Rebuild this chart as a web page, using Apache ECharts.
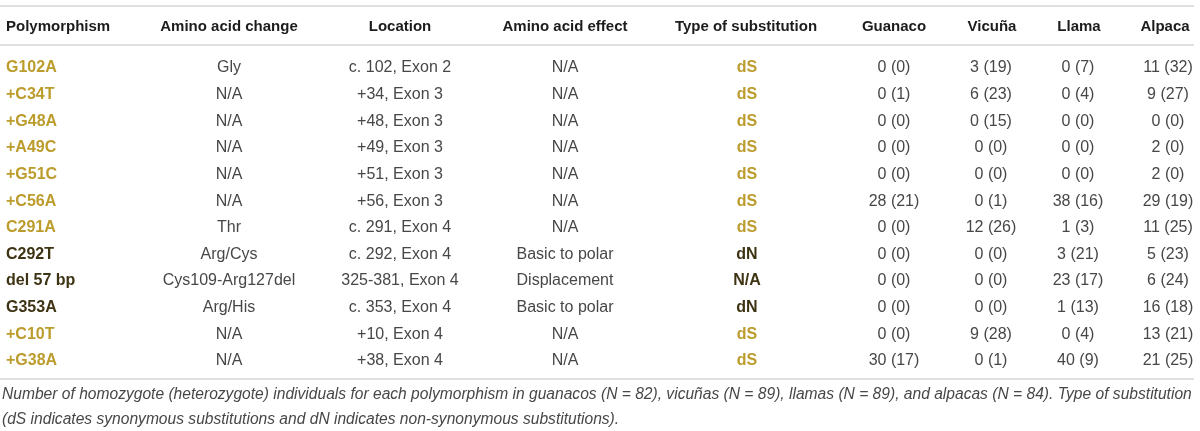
<!DOCTYPE html>
<html>
<head>
<meta charset="utf-8">
<script src="https://cdn.jsdelivr.net/npm/echarts@6/dist/echarts.min.js"></script>
<style>
html, body { margin: 0; padding: 0; background: #fff; }
#chart { width: 1200px; height: 431px; }
</style>
</head>
<body>
<div id="chart"></div>
<script>
var headers = ['Polymorphism', 'Amino acid change', 'Location', 'Amino acid effect', 'Type of substitution', 'Guanaco', 'Vicuña', 'Llama', 'Alpaca'];
var polymorphisms = ['G102A', '+C34T', '+G48A', '+A49C', '+G51C', '+C56A', 'C291A', 'C292T', 'del 57 bp', 'G353A', '+C10T', '+G38A'];
var aaChange = ['Gly', 'N/A', 'N/A', 'N/A', 'N/A', 'N/A', 'Thr', 'Arg/Cys', 'Cys109-Arg127del', 'Arg/His', 'N/A', 'N/A'];
var locations = ['c. 102, Exon 2', '+34, Exon 3', '+48, Exon 3', '+49, Exon 3', '+51, Exon 3', '+56, Exon 3', 'c. 291, Exon 4', 'c. 292, Exon 4', '325-381, Exon 4', 'c. 353, Exon 4', '+10, Exon 4', '+38, Exon 4'];
var aaEffect = ['N/A', 'N/A', 'N/A', 'N/A', 'N/A', 'N/A', 'N/A', 'Basic to polar', 'Displacement', 'Basic to polar', 'N/A', 'N/A'];
var substitution = ['dS', 'dS', 'dS', 'dS', 'dS', 'dS', 'dS', 'dN', 'N/A', 'dN', 'dS', 'dS'];
// homozygote (heterozygote) counts
var guanacoHom = [0, 0, 0, 0, 0, 28, 0, 0, 0, 0, 0, 30];
var guanacoHet = [0, 1, 0, 0, 0, 21, 0, 0, 0, 0, 0, 17];
var vicunaHom = [3, 6, 0, 0, 0, 0, 12, 0, 0, 0, 9, 0];
var vicunaHet = [19, 23, 15, 0, 0, 1, 26, 0, 0, 0, 28, 1];
var llamaHom = [0, 0, 0, 0, 0, 38, 1, 3, 23, 1, 0, 40];
var llamaHet = [7, 4, 0, 0, 0, 16, 3, 21, 17, 13, 4, 9];
var alpacaHom = [11, 9, 0, 2, 2, 29, 11, 5, 6, 16, 13, 21];
var alpacaHet = [32, 27, 0, 0, 0, 19, 25, 23, 24, 18, 21, 25];
var footnote = 'Number of homozygote (heterozygote) individuals for each polymorphism in guanacos (N = 82), vicuñas (N = 89), llamas (N = 89), and alpacas (N = 84). Type of substitution\n(dS indicates synonymous substitutions and dN indicates non-synonymous substitutions).';

// layout: column anchor x (pixels on the hidden value axis)
var colX = [6, 229, 400, 565, 747, 894, 991, 1078, 1168];
var headerX = [6, 229, 400, 565, 746, 894, 992, 1079, 1165];
var HEADER_ROW = -1.54;
var RULES = [-2.25, -0.79, 11.75];
var TEXT_DY = 2;

var GOLD = '#bb9c2c';
var DARK = '#3e3414';
var TEXT = '#474747';

function pair(h, e) { return h.map(function (v, i) { return v + ' (' + e[i] + ')'; }); }
var columns = [polymorphisms, aaChange, locations, aaEffect, substitution,
  pair(guanacoHom, guanacoHet), pair(vicunaHom, vicunaHet), pair(llamaHom, llamaHet), pair(alpacaHom, alpacaHet)];

var cells = [];
columns.forEach(function (col, c) {
  col.forEach(function (txt, r) {
    cells.push([colX[c], r, txt, c]);
  });
});
var headCells = headers.map(function (h, c) { return [headerX[c], HEADER_ROW, h, c]; });

function rowColor(r) { return substitution[r] === 'dS' ? GOLD : DARK; }

function cellItem(params, api) {
  var pt = api.coord([api.value(0), api.value(1)]);
  var c = api.value(3);
  var r = api.value(1);
  var bold = c === 0 || c === 4;
  return {
    type: 'text',
    x: pt[0], y: pt[1] + TEXT_DY,
    style: {
      text: cells[params.dataIndex][2],
      fill: bold ? rowColor(r) : TEXT,
      font: (bold ? 'bold ' : '') + '16px "Liberation Sans", Arial, sans-serif',
      align: c === 0 ? 'left' : 'center',
      verticalAlign: 'middle'
    }
  };
}

function headItem(params, api) {
  var pt = api.coord([api.value(0), api.value(1)]);
  var c = api.value(3);
  return {
    type: 'text',
    x: pt[0], y: pt[1] + TEXT_DY,
    style: {
      text: headers[c],
      fill: '#1c1c1c',
      font: 'bold 15px "Liberation Sans", Arial, sans-serif',
      align: c === 0 ? 'left' : 'center',
      verticalAlign: 'middle'
    }
  };
}

function ruleItem(params, api) {
  var a = api.coord([0, api.value(0)]);
  var b = api.coord([1194, api.value(0)]);
  return {
    type: 'line',
    shape: { x1: a[0], y1: a[1], x2: b[0], y2: b[1] },
    style: { stroke: '#e0e0e0', lineWidth: 2 }
  };
}

var chart = echarts.init(document.getElementById('chart'));
chart.setOption({
  animation: false,
  title: {
    text: footnote,
    left: 2,
    top: 382,
    padding: 0,
    textStyle: {
      fontFamily: '"Liberation Sans", Arial, sans-serif',
      fontStyle: 'italic',
      fontWeight: 'normal',
      fontSize: 15.6,
      lineHeight: 25,
      color: '#474747'
    }
  },
  grid: { left: 0, right: 0, top: 6, height: 373 },
  xAxis: { type: 'value', min: 0, max: 1200, show: false },
  yAxis: { type: 'value', min: -2.25, max: 11.75, inverse: true, show: false },
  series: [
    { type: 'custom', data: RULES.map(function (v) { return [v]; }), renderItem: ruleItem, clip: false, silent: true },
    { type: 'custom', data: headCells, renderItem: headItem, clip: false, silent: true },
    { type: 'custom', data: cells, renderItem: cellItem, clip: false, silent: true }
  ]
});
</script>
</body>
</html>
